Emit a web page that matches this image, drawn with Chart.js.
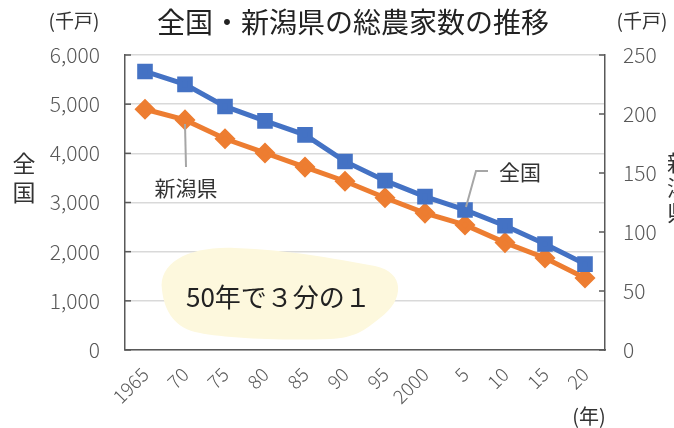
<!DOCTYPE html>
<html>
<head>
<meta charset="utf-8">
<script src="https://cdn.jsdelivr.net/npm/chart.js@4"></script>
<style>
  html, body { margin: 0; padding: 0; background: #fff; }
  #wrap { width: 674px; height: 428px; }
</style>
</head>
<body>
<div id="wrap"><canvas id="myChart1" width="674" height="428"></canvas></div>
<script>
const years = ['1965', '70', '75', '80', '85', '90', '95', '2000', '5', '10', '15', '20'];
const zenkoku = [5665, 5402, 4953, 4661, 4376, 3835, 3444, 3120, 2848, 2528, 2155, 1747];
const niigata = [204, 195, 179, 167, 155, 143, 129, 116, 106, 91, 78, 61];
const leftTicks = [0, 6000, 1000];
const rightTicks = [0, 250, 50];

const JP = '"Noto Sans CJK JP", "Noto Sans", sans-serif';
const gray = '#595959';

const extras = {
    id: 'extras',
    beforeDatasetsDraw(chart) {
        const c = chart.ctx;
        // yellow blob
        c.save();
        c.fillStyle = '#FDF8DD';
        c.beginPath();
        c.moveTo(162, 290);
        c.bezierCurveTo(158, 262, 190, 246, 235, 248);
        c.bezierCurveTo(290, 250, 330, 258, 375, 266);
        c.bezierCurveTo(405, 272, 405, 300, 380, 318);
        c.bezierCurveTo(365, 330, 355, 338, 330, 339);
        c.bezierCurveTo(280, 341, 220, 338, 195, 332);
        c.bezierCurveTo(172, 326, 164, 308, 162, 290);
        c.closePath();
        c.fill();
        c.fillStyle = '#222';
        c.font = '26px ' + JP;
        c.textBaseline = 'middle';
        c.textAlign = 'left';
        c.fillText('50年で３分の１', 186, 297);
        c.restore();
    },
    afterDraw(chart) {
        const c = chart.ctx;
        const a = chart.chartArea;
        const x = chart.scales.x, y = chart.scales.y, y1 = chart.scales.y1;
        c.save();
        // inside tick marks
        c.strokeStyle = gray;
        c.lineWidth = 1.5;
        for (let v = leftTicks[0]; v <= leftTicks[1]; v += leftTicks[2]) {
            const py = y.getPixelForValue(v);
            c.beginPath(); c.moveTo(a.left, py); c.lineTo(a.left + 6, py); c.stroke();
        }
        for (let v = rightTicks[0]; v <= rightTicks[1]; v += rightTicks[2]) {
            const py = y1.getPixelForValue(v);
            c.beginPath(); c.moveTo(a.right - 6, py); c.lineTo(a.right, py); c.stroke();
        }
        // callouts
        c.strokeStyle = '#A6A6A6';
        c.lineWidth = 2;
        const nx = x.getPixelForValue(1), ny = y1.getPixelForValue(niigata[1]);
        c.beginPath(); c.moveTo(nx, ny + 4); c.lineTo(nx + 1, 167); c.stroke();
        const zx = x.getPixelForValue(8), zy = y.getPixelForValue(zenkoku[8]);
        c.beginPath(); c.moveTo(zx + 1, zy - 3); c.lineTo(476, 171); c.lineTo(488, 171); c.stroke();
        // labels
        c.fillStyle = '#333';
        c.textBaseline = 'middle';
        c.textAlign = 'center';
        c.font = '21px ' + JP;
        c.fillText('新潟県', 186, 188);
        c.fillText('全国', 520, 172);
        // title
        c.font = '28px ' + JP;
        c.fillStyle = '#222';
        c.fillText('全国・新潟県の総農家数の推移', 353, 22);
        // units
        c.font = '19px ' + JP;
        c.fillStyle = '#333';
        c.fillText('(千戸)', 74, 21);
        c.fillText('(千戸)', 642, 21);
        c.font = '20px ' + JP;
        c.fillText('(年)', 589, 416);
        // vertical axis titles
        c.font = '23px ' + JP;
        ['全', '国'].forEach((ch, i) => c.fillText(ch, 24, 163 + i * 29));
        c.font = '22px ' + JP;
        ['新', '潟', '県'].forEach((ch, i) => c.fillText(ch, 678, 163 + i * 25));
        c.restore();
    }
};

new Chart(document.getElementById('myChart1'), {
    type: 'line',
    data: {
        labels: years,
        datasets: [{
            label: '全国',
            data: zenkoku,
            yAxisID: 'y',
            borderColor: '#4472C4',
            backgroundColor: '#4472C4',
            borderWidth: 5,
            pointStyle: 'rect',
            pointRadius: 7.5,
            pointHoverRadius: 7.5,
            tension: 0
        }, {
            label: '新潟県',
            data: niigata,
            yAxisID: 'y1',
            borderColor: '#ED7D31',
            backgroundColor: '#ED7D31',
            borderWidth: 5,
            pointStyle: 'rectRot',
            pointRadius: 7,
            pointHoverRadius: 7,
            tension: 0
        }]
    },
    options: {
        responsive: false,
        animation: false,
        layout: { padding: { top: 55 } },
        plugins: {
            legend: { display: false },
            tooltip: { enabled: false }
        },
        scales: {
            x: {
                offset: true,
                grid: { display: false },
                border: { display: true, color: gray, width: 1.5 },
                ticks: {
                    minRotation: 45,
                    maxRotation: 45,
                    autoSkip: false,
                    color: gray,
                    padding: 5,
                    font: { family: JP, size: 19, weight: 300 }
                },
                afterFit: s => { s.height = 78; }
            },
            y: {
                position: 'left',
                min: leftTicks[0],
                max: leftTicks[1],
                grid: { color: '#D9D9D9', lineWidth: 1.5, drawTicks: false },
                border: { display: true, color: gray, width: 1.5 },
                ticks: {
                    stepSize: leftTicks[2],
                    color: gray,
                    padding: 25,
                    font: { family: JP, size: 21, weight: 300 }
                },
                afterFit: s => { s.width = 125; }
            },
            y1: {
                position: 'right',
                min: rightTicks[0],
                max: rightTicks[1],
                grid: { display: false, drawTicks: false },
                border: { display: true, color: gray, width: 1.5 },
                ticks: {
                    stepSize: rightTicks[2],
                    color: gray,
                    padding: 18,
                    font: { family: JP, size: 21, weight: 300 }
                },
                afterFit: s => { s.width = 69; }
            }
        }
    },
    plugins: [extras]
});
</script>
</body>
</html>
